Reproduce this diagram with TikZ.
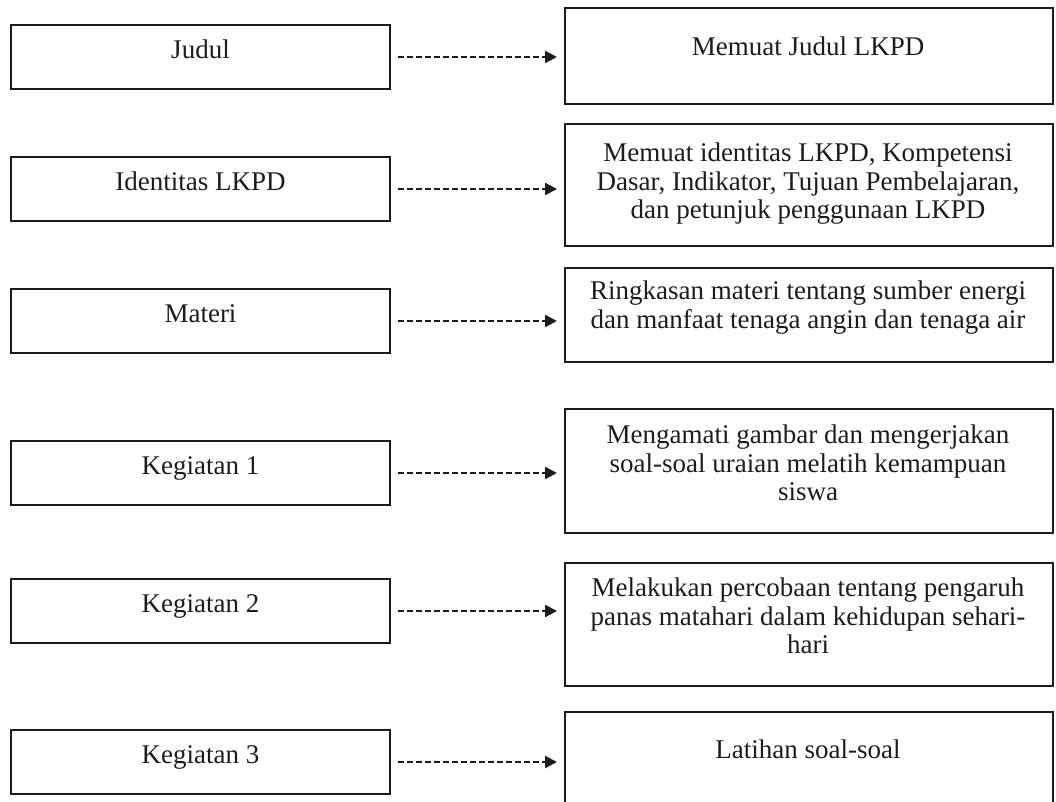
\documentclass[tikz,border=0pt]{standalone}
\usepackage{fontspec}
\setmainfont{Liberation Serif}
\usetikzlibrary{arrows.meta,positioning}
\definecolor{ink}{HTML}{1C1C1C}
\tikzset{
  lbox/.style={draw=ink, line width=2pt, minimum width=379pt, minimum height=64pt, inner sep=0pt,
               font=\fontsize{27}{28.5}\selectfont, text=ink, text height=18.4pt, text depth=15pt},
  rbox/.style={draw=ink, line width=2pt, minimum width=488pt, inner sep=0pt, anchor=north west},
  rtext/.style={font=\fontsize{27}{28.5}\selectfont, text=ink, align=center, anchor=north, inner sep=0pt},
  darr/.style={-{Triangle[length=12pt, width=12pt]}, line width=2.2pt, draw=ink,
               dash pattern=on 6pt off 3pt, shorten <=7pt, shorten >=7pt},
}
\begin{document}
\begin{tikzpicture}[x=1pt, y=-1pt]
  \useasboundingbox (0,0) rectangle (1056,802);
  % y runs down from the top edge, in px
  \newcommand{\lkpdrow}[7]{% id, left text, left top, right top, right bottom, text top, right text
    \node[lbox, anchor=north west] (l#1) at (10,#3) {#2};
    \node[rbox, minimum height={#5-#4}] (r#1) at (564,#4) {};
    \node[rtext] (t#1) at (808,#6) {#7};
    \draw[darr] (l#1.east) -- (l#1.east -| r#1.west);}
  \lkpdrow{1}{Judul}{24}{7}{103}{37}{Memuat Judul LKPD}
  \lkpdrow{2}{Identitas LKPD}{156}{123}{245}{143}{Memuat identitas LKPD, Kompetensi\\Dasar, Indikator, Tujuan Pembelajaran,\\dan petunjuk penggunaan LKPD}
  \lkpdrow{3}{Materi}{288}{267}{361}{281}{Ringkasan materi tentang sumber energi\\dan manfaat tenaga angin dan tenaga air}
  \lkpdrow{4}{Kegiatan 1}{440}{408}{532}{425}{Mengamati gambar dan mengerjakan\\soal-soal uraian melatih kemampuan\\siswa}
  \lkpdrow{5}{Kegiatan 2}{578}{562}{685}{578}{Melakukan percobaan tentang pengaruh\\panas matahari dalam kehidupan sehari-\\hari}
  \lkpdrow{6}{Kegiatan 3}{729}{711}{820}{740}{Latihan soal-soal}
\end{tikzpicture}
\end{document}
